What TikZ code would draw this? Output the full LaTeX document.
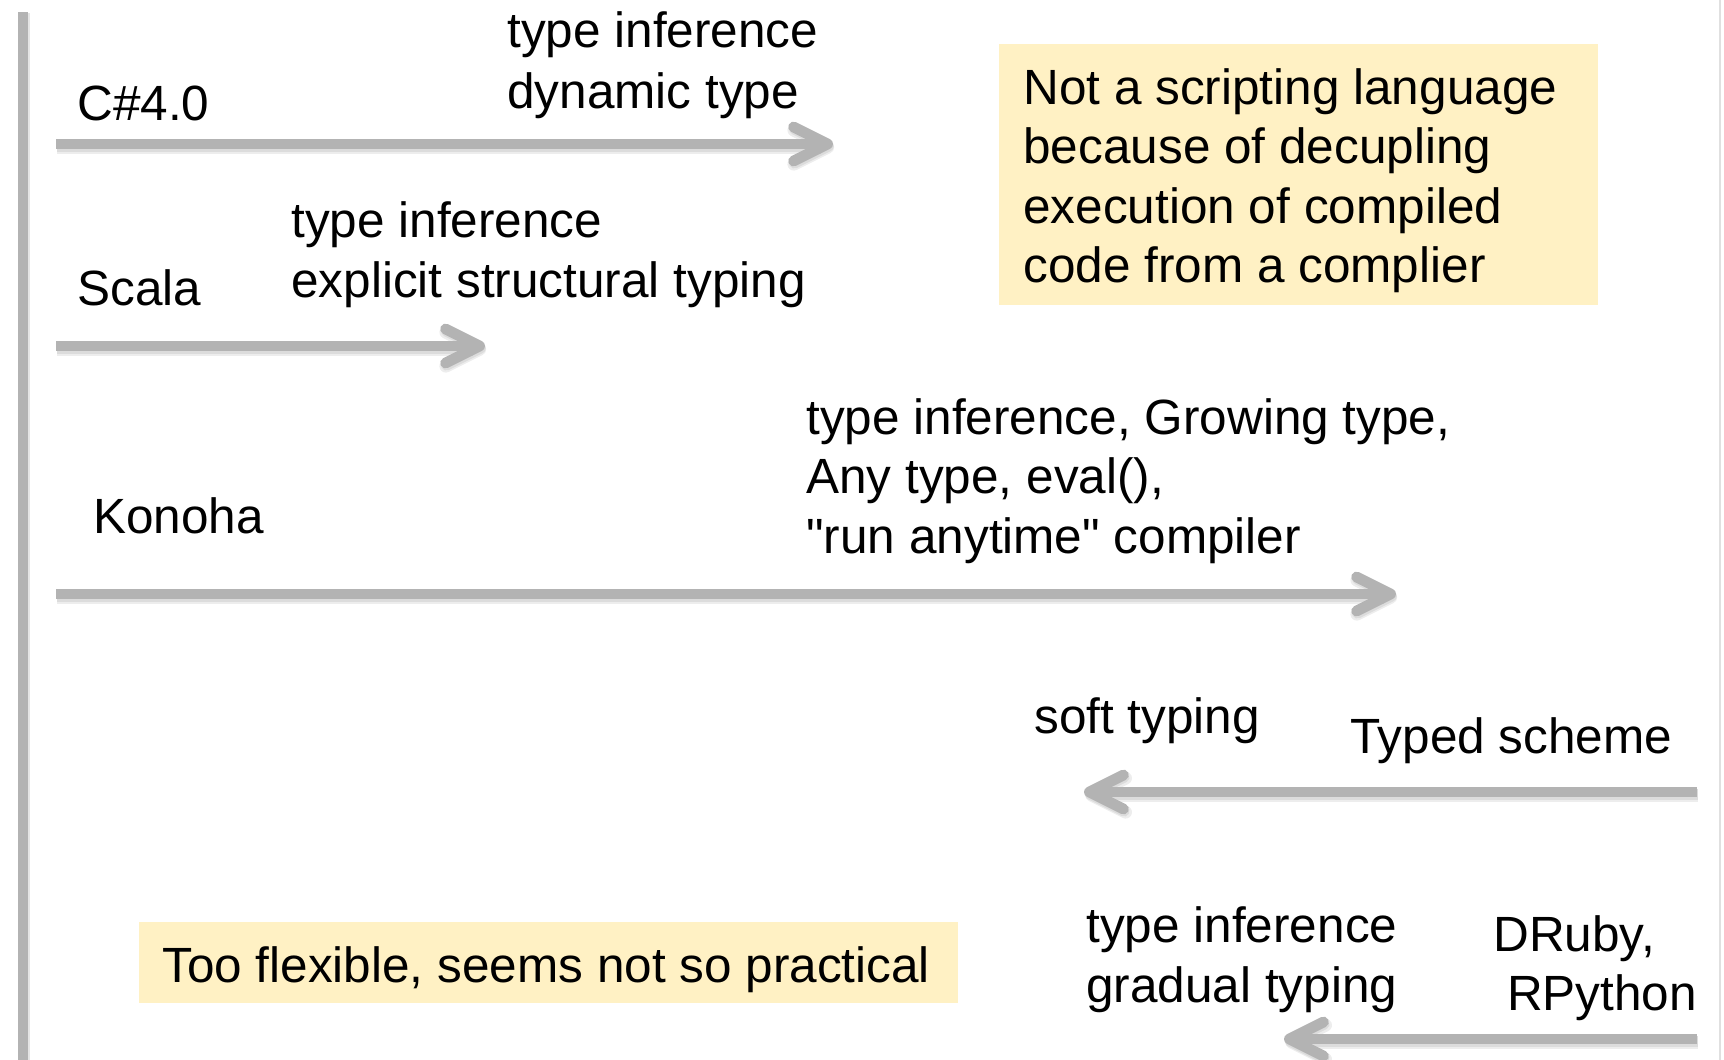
\documentclass[tikz,border=0pt]{standalone}
\usepackage{fontspec}
\newfontfamily\lsans{Liberation Sans}
\usetikzlibrary{arrows.meta}
\definecolor{arrowgray}{HTML}{B3B3B3}
\definecolor{noteyellow}{HTML}{FFF1C4}
\begin{document}
\begin{tikzpicture}[x=0.5pt,y=-0.5pt,
  txt/.style={anchor=base west, inner sep=0pt, font=\lsans\fontsize{24.75}{29.8}\selectfont},
  flow/.style={draw=arrowgray, line width=5.4pt, -{Straight Barb[length=17pt,width=17pt,round]}},
  flowshadow/.style={draw=black, opacity=0.07, line width=6.4pt, -{Straight Barb[length=17pt,width=17pt,round]}, transform canvas={shift={(0.6pt,-1.6pt)}}},
  flowshadowin/.style={draw=black, opacity=0.07, line width=5.4pt, -{Straight Barb[length=17pt,width=17pt,round]}, transform canvas={shift={(0.4pt,-1.1pt)}}},
  barline/.style={draw=arrowgray, line width=5pt},
  barshadow/.style={draw=black, opacity=0.10, line width=5.6pt, transform canvas={shift={(0.9pt,-0.6pt)}}},
  note/.style={fill=noteyellow, inner sep=0pt, anchor=north west}]
\useasboundingbox (0,0) rectangle (1724,1060);
\fill[white] (0,0) rectangle (1724,1060);

% frame lines
\coordinate (bartop) at (23,12);
\coordinate (barbot) at (23,1060);
\coordinate (edgetop) at (1720,0);
\coordinate (edgebot) at (1720,1060);
\draw[barshadow] (bartop) -- (barbot);
\draw[barline] (bartop) -- (barbot);
\draw[black!12, line width=0.8pt] (edgetop) -- (edgebot);

% notes
\node[note, minimum width=299.5pt, minimum height=130.5pt] (note1) at (999,44) {};
\node[txt] (note1text) at (1023,104) {\vtop{\hbox{Not a scripting language}\hbox{because of decupling}\hbox{execution of compiled}\hbox{code from a complier}}};
\node[note, minimum width=409.5pt, minimum height=40.5pt] (note2) at (139,922) {};
\node[txt] (note2text) at (162,982) {Too flexible, seems not so practical};

% labels
\node[txt] (csharp) at (77,120) {C\#4.0};
\node[txt, font=\lsans\fontsize{24.75}{30.8}\selectfont] (csharpnote) at (507,47) {\vtop{\hbox{type inference}\hbox{dynamic type}}};
\node[txt] (scala) at (77,305) {Scala};
\node[txt, font=\lsans\fontsize{24.75}{30.3}\selectfont] (scalanote) at (291,237) {\vtop{\hbox{type inference}\hbox{explicit structural typing}}};
\node[txt] (konoha) at (93,533) {Konoha};
\node[txt] (konohanote) at (806,434) {\vtop{\hbox{type inference, Growing type,}\hbox{Any type, eval(),}\hbox{"run anytime" compiler}}};
\node[txt] (soft) at (1034,733) {soft typing};
\node[txt] (tscheme) at (1350,753) {Typed scheme};
\node[txt, font=\lsans\fontsize{24.75}{30.3}\selectfont] (gradual) at (1086,942) {\vtop{\hbox{type inference}\hbox{gradual typing}}};
\node[txt] (druby) at (1493,951) {\vtop{\hbox{DRuby,}\hbox{\ RPython}}};

% arrows
\coordinate (a1s) at (56,144);   \coordinate (a1e) at (833,144);
\coordinate (a2s) at (56,346);   \coordinate (a2e) at (485,346);
\coordinate (a3s) at (56,594);   \coordinate (a3e) at (1396,594);
\coordinate (a4s) at (1697,792); \coordinate (a4e) at (1084,792);
\coordinate (a5s) at (1697,1039);\coordinate (a5e) at (1284,1039);
\foreach \s/\e in {a1s/a1e,a2s/a2e,a3s/a3e,a4s/a4e,a5s/a5e}{
  \draw[flowshadow] (\s) -- (\e);
  \draw[flowshadowin] (\s) -- (\e);
  \draw[flow] (\s) -- (\e);
}
\end{tikzpicture}
\end{document}
